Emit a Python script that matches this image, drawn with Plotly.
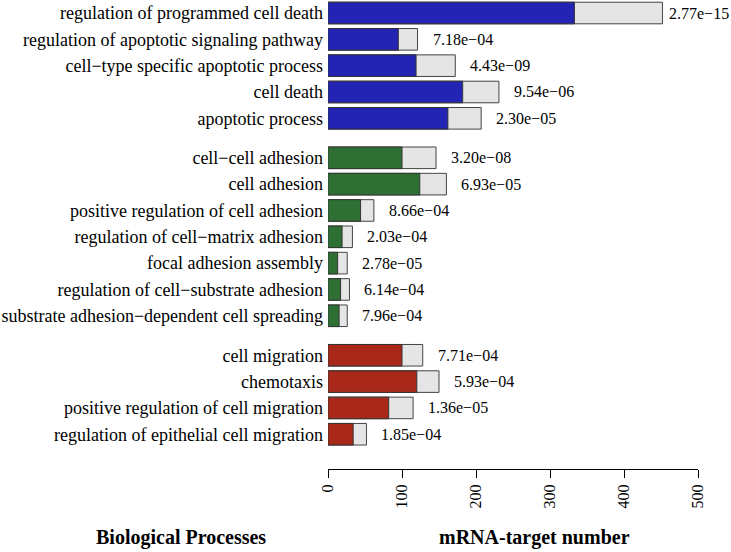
import plotly.graph_objects as go

# ---- data ----
apoptosis_terms = ["regulation of programmed cell death",
                   "regulation of apoptotic signaling pathway",
                   "cell\u2212type specific apoptotic process",
                   "cell death",
                   "apoptotic process"]
apoptosis_sig = [333, 95, 119, 182, 162]
apoptosis_total = [452, 121, 172, 231, 207]
apoptosis_p = ["2.77e\u221215", "7.18e\u221204", "4.43e\u221209", "9.54e\u221206", "2.30e\u221205"]

adhesion_terms = ["cell\u2212cell adhesion",
                  "cell adhesion",
                  "positive regulation of cell adhesion",
                  "regulation of cell\u2212matrix adhesion",
                  "focal adhesion assembly",
                  "regulation of cell\u2212substrate adhesion",
                  "substrate adhesion\u2212dependent cell spreading"]
adhesion_sig = [100, 124, 44, 19, 13, 17, 15]
adhesion_total = [146, 160, 62, 33, 26, 29, 26]
adhesion_p = ["3.20e\u221208", "6.93e\u221205", "8.66e\u221204", "2.03e\u221204", "2.78e\u221205", "6.14e\u221204", "7.96e\u221204"]

migration_terms = ["cell migration",
                   "chemotaxis",
                   "positive regulation of cell migration",
                   "regulation of epithelial cell migration"]
migration_sig = [100, 120, 82, 34]
migration_total = [128, 150, 115, 52]
migration_p = ["7.71e\u221204", "5.93e\u221204", "1.36e\u221205", "1.85e\u221204"]

x_ticks = [0, 100, 200, 300, 400, 500]

groups = [
    (apoptosis_terms, apoptosis_sig, apoptosis_total, apoptosis_p, "#2323B4"),
    (adhesion_terms, adhesion_sig, adhesion_total, adhesion_p, "#2E7034"),
    (migration_terms, migration_sig, migration_total, migration_p, "#A8291A"),
]

FONT = "Liberation Serif"
fig = go.Figure()
annotations = []
tickvals, ticktext = [], []
pos = 0.0
for terms, sig, total, pv, color in groups:
    ys = [pos + i for i in range(len(terms))]
    fig.add_trace(go.Bar(y=ys, x=total, orientation="h", width=0.82,
                         marker=dict(color="#E5E5E5", line=dict(color="#444444", width=1)),
                         showlegend=False, hoverinfo="skip"))
    fig.add_trace(go.Bar(y=ys, x=sig, orientation="h", width=0.82,
                         marker=dict(color=color, line=dict(color="#333333", width=1)),
                         showlegend=False))
    for y, t, p, name in zip(ys, total, pv, terms):
        annotations.append(dict(x=t, y=y, xref="x", yref="y", text=p, showarrow=False,
                                xanchor="left", xshift=(13 if t < 400 else 5),
                                font=dict(size=16, color="black", family=FONT)))
        tickvals.append(y)
        ticktext.append(name)
    pos += len(terms) + 0.5

annotations.append(dict(x=-0.397, y=-0.147, xref="paper", yref="paper", text="<b>Biological Processes</b>",
                        showarrow=False, xanchor="center", yanchor="middle",
                        font=dict(size=20, color="black", family=FONT)))
annotations.append(dict(x=0.557, y=-0.147, xref="paper", yref="paper", text="<b>mRNA-target number</b>",
                        showarrow=False, xanchor="center", yanchor="middle",
                        font=dict(size=20, color="black", family=FONT)))

fig.update_layout(
    width=731, height=552,
    margin=dict(l=328, r=33, t=0, b=83),
    barmode="overlay",
    plot_bgcolor="white", paper_bgcolor="white",
    font=dict(family=FONT, size=16, color="black"),
    annotations=annotations,
    xaxis=dict(range=[0, 500], tickvals=x_ticks, ticks="outside", ticklen=8, tickcolor="black",
               showline=True, linecolor="black", linewidth=1, showgrid=False, zeroline=False,
               tickangle=-90, tickfont=dict(size=16, family=FONT)),
    yaxis=dict(range=[17.32, -0.494], tickvals=tickvals, ticktext=ticktext, showgrid=False,
               zeroline=False, showline=False, ticks="", ticklabelstandoff=4, ticklabeloverflow="allow",
               tickfont=dict(size=18, family=FONT)),
)
fig.write_html("out.html", config={"displayModeBar": False},
               post_script="document.body.style.margin='0px';")
